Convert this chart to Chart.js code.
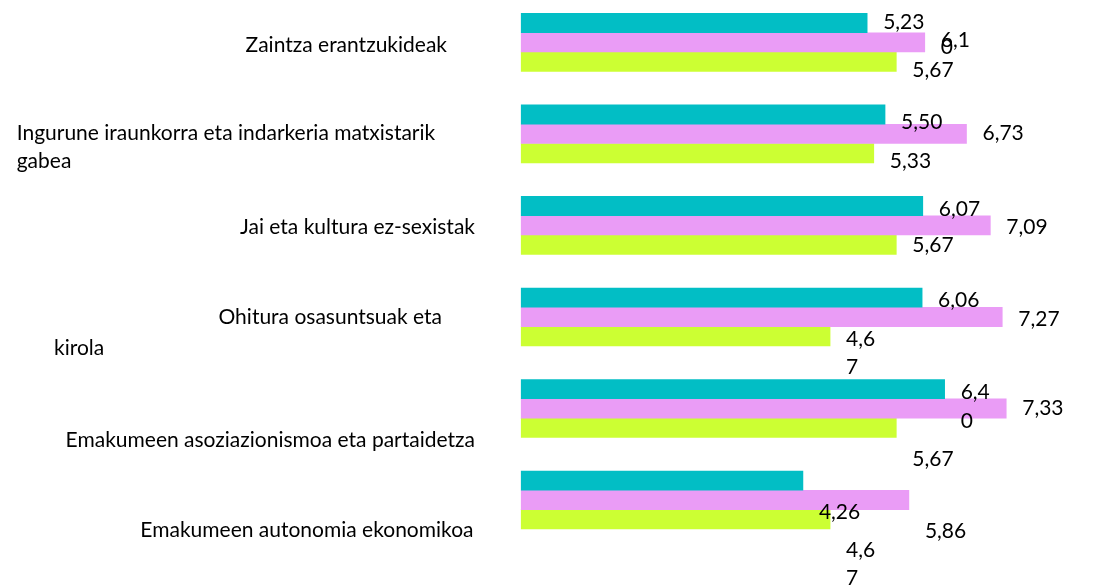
<!DOCTYPE html>
<html>
<head>
<meta charset="utf-8">
<script src="https://cdn.jsdelivr.net/npm/chart.js@4.4.0/dist/chart.umd.min.js"></script>
<style>
  html, body { margin: 0; padding: 0; background: #fff; overflow: hidden; }
  #wrap { position: absolute; left: 0; top: -20px; width: 1102px; height: 626px; }
</style>
</head>
<body>
<div id="wrap"><canvas id="chart"></canvas></div>
<script>
// categories (top to bottom), line breaks as in the source picture
const categories = [
  'Zaintza erantzukideak',
  ['Ingurune iraunkorra eta indarkeria matxistarik', 'gabea'],
  'Jai eta kultura ez-sexistak',
  ['Ohitura osasuntsuak eta', 'kirola'],
  'Emakumeen asoziazionismoa eta partaidetza',
  'Emakumeen autonomia ekonomikoa'
];
const serieA = [5.23, 5.50, 6.07, 6.06, 6.40, 4.26];
const serieB = [6.10, 6.73, 7.09, 7.27, 7.33, 5.86];
const serieC = [5.67, 5.33, 5.67, 4.67, 5.67, 4.67];

const COLORS = { teal: '#02BEC5', pink: '#EA9CF6', lime: '#CCFF33', text: '#000' };
const FONT = 'Lato, "Noto Sans", sans-serif';
const FS = 21;

// label placement (offsets from the bar end / centre)
// [dy of first line, split after n chars (0 = none), line gap]
const valueLayout = [
  [[-1, 0, 0], [7.5, 0, 0], [2.5, 0, 0], [2, 0, 0], [2.7, 3, 29], [31, 0, 0]],
  [[-3, 3, 7], [-1, 0, 0], [1, 0, 0], [1.8, 0, 0], [-1, 0, 0], [31, 0, 0]],
  [[7.5, 0, 0], [7.7, 0, 0], [0, 0, 0], [2.8, 3, 28], [30.8, 0, 0], [30.7, 3, 28]]
];
// per category line: [x, align, baseline dy from category centre]
const catLayout = [
  [[447, 'right', 9.4]],
  [[16.7, 'left', 6.3], [16.7, 'left', 34.6]],
  [[475, 'right', 8.3]],
  [[442, 'right', 6.6], [54, 'left', 38.3]],
  [[475, 'right', 38.2]],
  [[473.5, 'right', 36.7]]
];

const fmt = v => v.toFixed(2).replace('.', ',');

const labelPlugin = {
  id: 'labels',
  afterDatasetsDraw(chart) {
    const c = chart.ctx;
    c.save();
    c.fillStyle = COLORS.text;
    c.font = FS + 'px ' + FONT;
    c.textBaseline = 'alphabetic';
    const cap = FS * 0.35;
    // value labels
    c.textAlign = 'left';
    chart.data.datasets.forEach((ds, di) => {
      chart.getDatasetMeta(di).data.forEach((bar, i) => {
        const [dy, split, gap] = valueLayout[di][i];
        const txt = fmt(ds.data[i]);
        const lines = split ? [txt.slice(0, split), txt.slice(split)] : [txt];
        lines.forEach((t, k) => c.fillText(t, bar.x + 16, bar.y + dy + cap + k * gap));
      });
    });
    // category labels
    const y = chart.scales.y;
    chart.data.labels.forEach((lab, i) => {
      const lines = Array.isArray(lab) ? lab : [lab];
      const cy = y.getPixelForValue(i);
      lines.forEach((t, k) => {
        const [x, align, dy] = catLayout[i][k];
        c.textAlign = align;
        c.fillText(t, x, cy + dy);
      });
    });
    c.restore();
  }
};

new Chart(document.getElementById('chart'), {
  type: 'bar',
  data: {
    labels: categories,
    datasets: [
      { data: serieA, backgroundColor: COLORS.teal },
      { data: serieB, backgroundColor: COLORS.pink },
      { data: serieC, backgroundColor: COLORS.lime }
    ]
  },
  options: {
    indexAxis: 'y',
    responsive: true, maintainAspectRatio: false,
    animation: false,
    datasets: { bar: { barThickness: 19.3, borderWidth: 0 } },
    layout: { padding: { top: 16.6, bottom: 60.3, left: 520.8, right: 51.4 } },
    plugins: { legend: { display: false }, tooltip: { enabled: false } },
    scales: {
      x: { display: false, min: 0, max: 8 },
      y: { display: false }
    }
  },
  plugins: [labelPlugin]
});
</script>
</body>
</html>
